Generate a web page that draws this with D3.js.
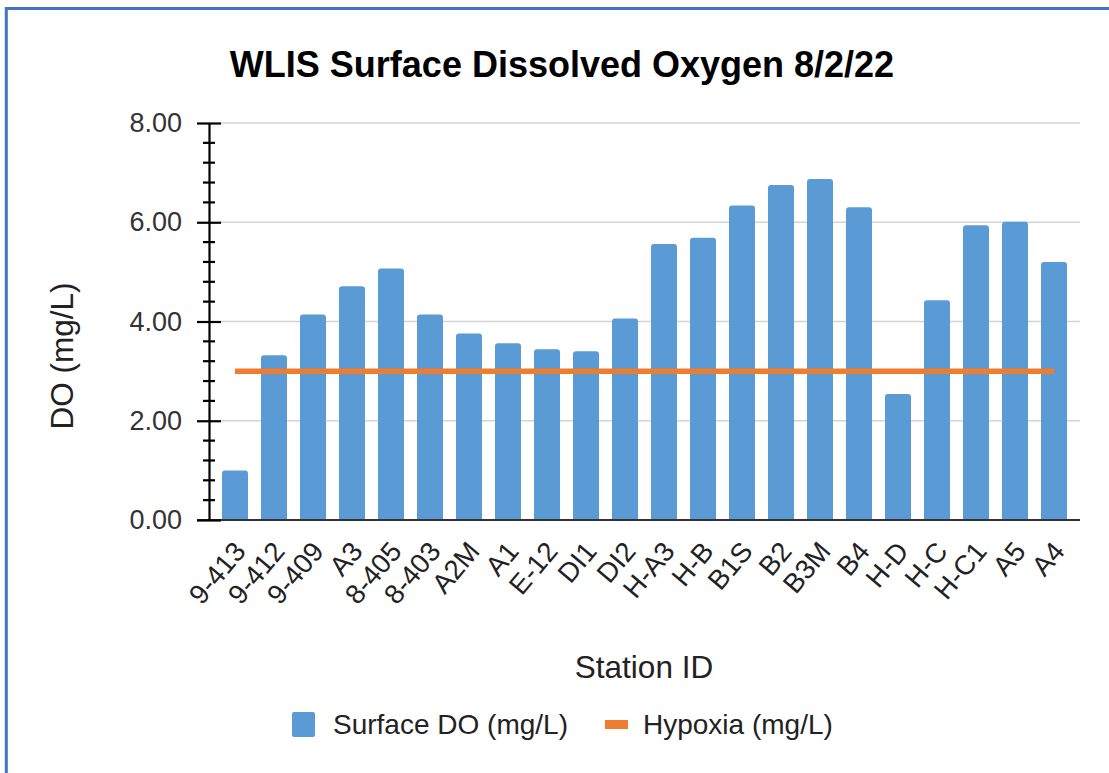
<!DOCTYPE html>
<html>
<head>
<meta charset="utf-8">
<script src="https://cdn.jsdelivr.net/npm/d3@7"></script>
<style>
  html, body { margin: 0; padding: 0; background: #fff; }
  svg { display: block; font-family: "Liberation Sans", Arial, sans-serif; }
</style>
</head>
<body>
<svg id="chart" width="1109" height="773"></svg>
<script>
const stations = ["9-413","9-412","9-409","A3","8-405","8-403","A2M","A1","E-12","DI1","DI2","H-A3","H-B","B1S","B2","B3M","B4","H-D","H-C","H-C1","A5","A4"];
const surfaceDO = [1.00,3.32,4.14,4.71,5.07,4.14,3.76,3.56,3.44,3.40,4.06,5.56,5.69,6.34,6.75,6.87,6.30,2.54,4.43,5.94,6.01,5.20];
const hypoxia = [3,3,3,3,3,3,3,3,3,3,3,3,3,3,3,3,3,3,3,3,3,3];
const yTicks = [0,2,4,6,8];
const yMinorTicks = [0.4,0.8,1.2,1.6,2.4,2.8,3.2,3.6,4.4,4.8,5.2,5.6,6.4,6.8,7.2,7.6];
const titleText = "WLIS Surface Dissolved Oxygen 8/2/22";
const xTitle = "Station ID";
const yTitle = "DO (mg/L)";
const seriesNames = ["Surface DO (mg/L)", "Hypoxia (mg/L)"];

const svg = d3.select("#chart");
const barColor = "#5B9BD5", lineColor = "#ED7D31";

// frame
svg.append("rect").attr("x", 6.3).attr("y", 8.5).attr("width", 1200).attr("height", 900)
  .attr("fill", "none").attr("stroke", "#4472C4").attr("stroke-width", 3);

const x = d3.scaleBand().domain(stations).range([209, 1080]).paddingInner(0.333).paddingOuter(0.333);
const y = d3.scaleLinear().domain([0, 8]).range([520, 123]);

// grid
svg.append("g").selectAll("line").data(yTicks.filter(d => d > 0)).join("line")
  .attr("x1", 221).attr("x2", 1080).attr("y1", d => y(d)).attr("y2", d => y(d))
  .attr("stroke", "#d3d3d3").attr("stroke-width", 1.6);

// bars with rounded top
svg.append("g").selectAll("path").data(stations).join("path")
  .attr("fill", barColor)
  .attr("d", (d, i) => {
    const x0 = x(d), w = x.bandwidth(), y0 = y(surfaceDO[i]), yb = y(0), r = 3;
    return `M${x0},${yb}V${y0 + r}Q${x0},${y0} ${x0 + r},${y0}H${x0 + w - r}Q${x0 + w},${y0} ${x0 + w},${y0 + r}V${yb}Z`;
  });

// baseline
svg.append("line").attr("x1", 197).attr("x2", 1080).attr("y1", y(0)).attr("y2", y(0))
  .attr("stroke", "#333").attr("stroke-width", 2.2);

// y axis
const yAxis = d3.axisLeft(y).tickValues(yTicks).tickFormat(d3.format(".2f")).tickSize(0).tickPadding(27);
const gy = svg.append("g").attr("transform", "translate(209,0)").call(yAxis);
gy.select(".domain").attr("stroke", "#000").attr("stroke-width", 2.2);
gy.selectAll("text").attr("font-size", 27).attr("fill", "#333").attr("font-family", "Liberation Sans, Arial, sans-serif");
gy.selectAll(".tick").append("line").attr("x1", -12).attr("x2", 12).attr("stroke", "#000").attr("stroke-width", 2.2);
svg.append("g").selectAll("line").data(yMinorTicks).join("line")
  .attr("x1", 203).attr("x2", 215).attr("y1", d => y(d)).attr("y2", d => y(d))
  .attr("stroke", "#000").attr("stroke-width", 2.2);

// hypoxia line
svg.append("path")
  .datum(stations.map((s, i) => [x(s) + x.bandwidth() / 2, y(hypoxia[i])]))
  .attr("d", d3.line()).attr("fill", "none").attr("stroke", lineColor).attr("stroke-width", 5.5);

// x labels
svg.append("g").selectAll("text").data(stations).join("text")
  .attr("transform", d => `translate(${x(d) + x.bandwidth() / 2 + 12},552) rotate(-50)`)
  .attr("text-anchor", "end").attr("font-size", 27.5).attr("fill", "#222")
  .text(d => d);

// titles
svg.append("text").attr("x", 562).attr("y", 77).attr("text-anchor", "middle")
  .attr("font-size", 36).attr("font-weight", "bold").attr("fill", "#000").text(titleText);
svg.append("text").attr("x", 644).attr("y", 678).attr("text-anchor", "middle")
  .attr("font-size", 31.5).attr("fill", "#222").text(xTitle);
svg.append("text").attr("transform", "translate(73,356) rotate(-90)").attr("text-anchor", "middle")
  .attr("font-size", 31.5).attr("fill", "#222").text(yTitle);

// legend
const lg = svg.append("g");
lg.append("rect").attr("x", 292).attr("y", 712).attr("width", 23).attr("height", 25).attr("rx", 2).attr("fill", barColor);
lg.append("text").attr("x", 333).attr("y", 734).attr("font-size", 28).attr("fill", "#222").text(seriesNames[0]);
lg.append("rect").attr("x", 605).attr("y", 720).attr("width", 23).attr("height", 9).attr("fill", lineColor);
lg.append("text").attr("x", 643).attr("y", 734).attr("font-size", 28).attr("fill", "#222").text(seriesNames[1]);
</script>
</body>
</html>
